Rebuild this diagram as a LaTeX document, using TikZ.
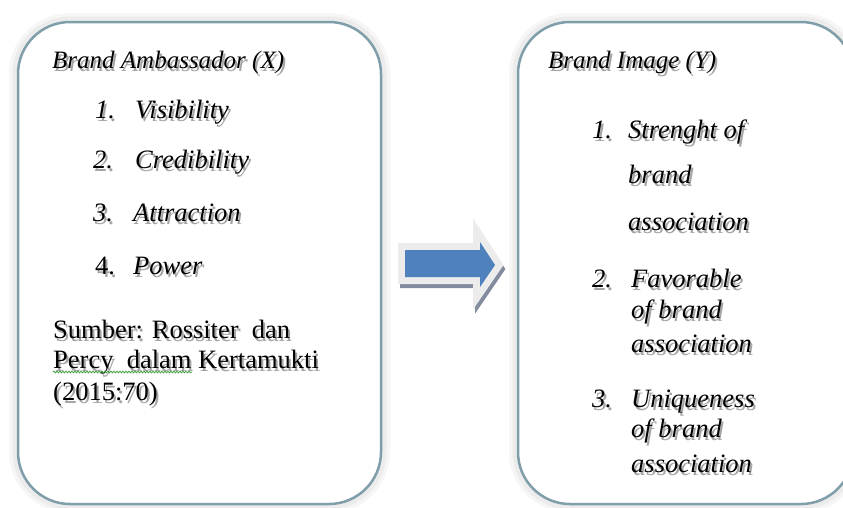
\documentclass[tikz,border=0pt]{standalone}
\usepackage{fontspec}
\setmainfont{Liberation Serif}
\usetikzlibrary{decorations.pathmorphing}
\definecolor{boxborder}{RGB}{128,158,170}
\definecolor{glowgray}{RGB}{236,236,236}
\definecolor{glowgray2}{RGB}{246,246,246}
\definecolor{shadowgray}{RGB}{165,165,165}
\definecolor{arrowblue}{RGB}{79,129,189}
\definecolor{arrowshadow}{RGB}{130,140,158}
\definecolor{squiggle}{RGB}{70,160,70}
\newcommand\shd[1]{\leavevmode\rlap{\hspace{2pt}\raisebox{-3pt}{\textcolor{shadowgray}{#1}}}#1}
\begin{document}
\begin{tikzpicture}[x=1pt,y=-1pt,
  txt/.style={anchor=base west,inner sep=0pt,font=\fontsize{26.5}{30}\selectfont},
  itxt/.style={anchor=base west,inner sep=0pt,font=\fontsize{26.5}{30}\selectfont\itshape},
  ttxt/.style={anchor=base west,inner sep=0pt,font=\fontsize{25}{30}\selectfont\itshape},
  glowA/.style={draw=glowgray2,line width=18pt,rounded corners=52pt},
  glowB/.style={draw=glowgray,line width=11pt,rounded corners=52pt},
  panel/.style={draw=boxborder,line width=2.5pt,fill=white,rounded corners=52pt}]
\clip (0,0) rectangle (843,507);
\fill[white] (0,0) rectangle (843,507);
% panels
\draw[glowA] (18,22) rectangle (381,504);
\draw[glowB] (18,22) rectangle (381,504);
\draw[panel] (18,22) rectangle (381,504);
\draw[glowA] (518,22) rectangle (853,504);
\draw[glowB] (518,22) rectangle (853,504);
\draw[panel] (518,22) rectangle (853,504);
% arrow
\def\arrowpath{(405,250) -- (480,250) -- (480,242) -- (495,265) -- (480,287) -- (480,277) -- (405,277) -- cycle}
\draw[arrowshadow,fill=arrowshadow,line width=14pt,line join=miter,shift={(2,4)}] \arrowpath;
\draw[glowgray,fill=glowgray,line width=14pt,line join=miter] \arrowpath;
\fill[arrowblue] \arrowpath;
% left texts
\node[ttxt] (tA) at (52,68) {\shd{Brand Ambassador (X)}};
\node[itxt] (n1) at (95,118) {\shd{1.}};
\node[itxt] (a1) at (135,118) {\shd{Visibility}};
\node[itxt] (n2) at (93,168) {\shd{2.}};
\node[itxt] (a2) at (135,168) {\shd{Credibility}};
\node[itxt] (n3) at (93,221) {\shd{3.}};
\node[itxt] (a3) at (133,221) {\shd{Attraction}};
\node[txt] (n4) at (95,274) {\shd{4.}};
\node[itxt] (a4) at (133,274) {\shd{Power}};
\node[txt] (s1) at (53,338) {\shd{Sumber: Rossiter~~dan}};
\node[txt] (s2) at (53,368) {\shd{Percy~~dalam Kertamukti}};
\node[txt] (s3) at (53,400) {\shd{(2015:70)}};
\coordinate (sqA) at (53,372);
\coordinate (sqB) at (192,372);
\draw[squiggle,line width=0.8pt,decorate,decoration={snake,amplitude=0.9pt,segment length=3pt}] (sqA) -- (sqB);
% right texts
\node[ttxt] (tB) at (548,68) {\shd{Brand Image (Y)}};
\node[itxt] (m1) at (592,138) {\shd{1.}};
\node[itxt] (b1a) at (628,138) {\shd{Strenght of}};
\node[itxt] (b1b) at (628,183) {\shd{brand}};
\node[itxt] (b1c) at (628,230) {\shd{association}};
\node[itxt] (m2) at (592,287) {\shd{2.}};
\node[itxt] (b2a) at (631,287) {\shd{Favorable}};
\node[itxt] (b2b) at (631,318) {\shd{of brand}};
\node[itxt] (b2c) at (631,352) {\shd{association}};
\node[itxt] (m3) at (592,407) {\shd{3.}};
\node[itxt] (b3a) at (631,407) {\shd{Uniqueness}};
\node[itxt] (b3b) at (631,437) {\shd{of brand}};
\node[itxt] (b3c) at (631,472) {\shd{association}};
\end{tikzpicture}
\end{document}
